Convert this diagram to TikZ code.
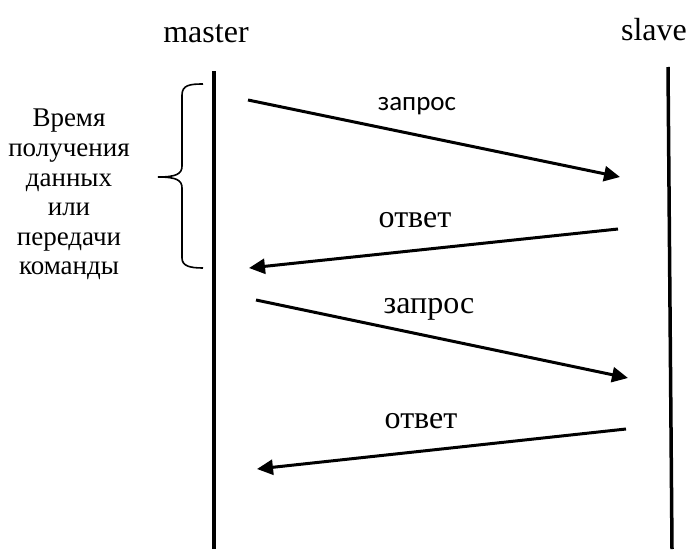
\documentclass[tikz,border=0pt]{standalone}
\usepackage{fontspec}
\setmainfont{Liberation Serif}
\newfontfamily\labelsans{Carlito}
\usetikzlibrary{arrows.meta}
\begin{document}
\begin{tikzpicture}[x=1pt,y=-1pt,
  lifeline/.style={line width=3.5pt},
  msg/.style={line width=3pt,-{Triangle[length=16pt,width=15pt]}},
  role/.style={font=\fontsize{32}{38}\selectfont,inner sep=0pt,anchor=base},
  msglabel/.style={font=\fontsize{32}{38}\selectfont,inner sep=0pt,anchor=base},
  note/.style={font=\fontsize{27}{29.6}\selectfont,inner sep=0pt,align=center,anchor=north}]
\useasboundingbox (0,0) rectangle (688,549);

% participants
\node[role] (master) at (206,42) {master};
\node[role] (slave) at (654,40) {slave};

% lifelines
\coordinate (mtop) at (214,71);
\coordinate (mbot) at (214,549);
\coordinate (stop) at (668,67);
\coordinate (sbot) at (672,549);
\draw[lifeline] (mtop) -- (mbot);
\draw[lifeline] (stop) -- (sbot);

% message end points
\coordinate (q1s) at (248,100);
\coordinate (q1e) at (620,177);
\coordinate (a1s) at (618,229);
\coordinate (a1e) at (249,268);
\coordinate (q2s) at (256,300);
\coordinate (q2e) at (628,378);
\coordinate (a2s) at (626,429);
\coordinate (a2e) at (257,469);

% messages
\draw[msg] (q1s) -- (q1e);
\draw[msg] (a1s) -- (a1e);
\draw[msg] (q2s) -- (q2e);
\draw[msg] (a2s) -- (a2e);

% message labels
\node[msglabel,font=\labelsans\fontsize{27}{32}\selectfont] (q1l) at (417,110) {запрос};
\node[msglabel] (a1l) at (415,227) {ответ};
\node[msglabel] (q2l) at (429,313) {запрос};
\node[msglabel] (a2l) at (421,428) {ответ};

% brace marking one exchange
\draw[line width=1.6pt]
  (203,84) .. controls (190,84) and (182,85) .. (182,95)
  -- (182,166) .. controls (182,174) and (176,177) .. (158,177)
  .. controls (176,177) and (182,180) .. (182,188)
  -- (182,258) .. controls (182,266) and (190,268) .. (203,268);

\node[note] (cycle) at (69,109) {Время\\получения\\данных\\или\\передачи\\команды};
\end{tikzpicture}
\end{document}
